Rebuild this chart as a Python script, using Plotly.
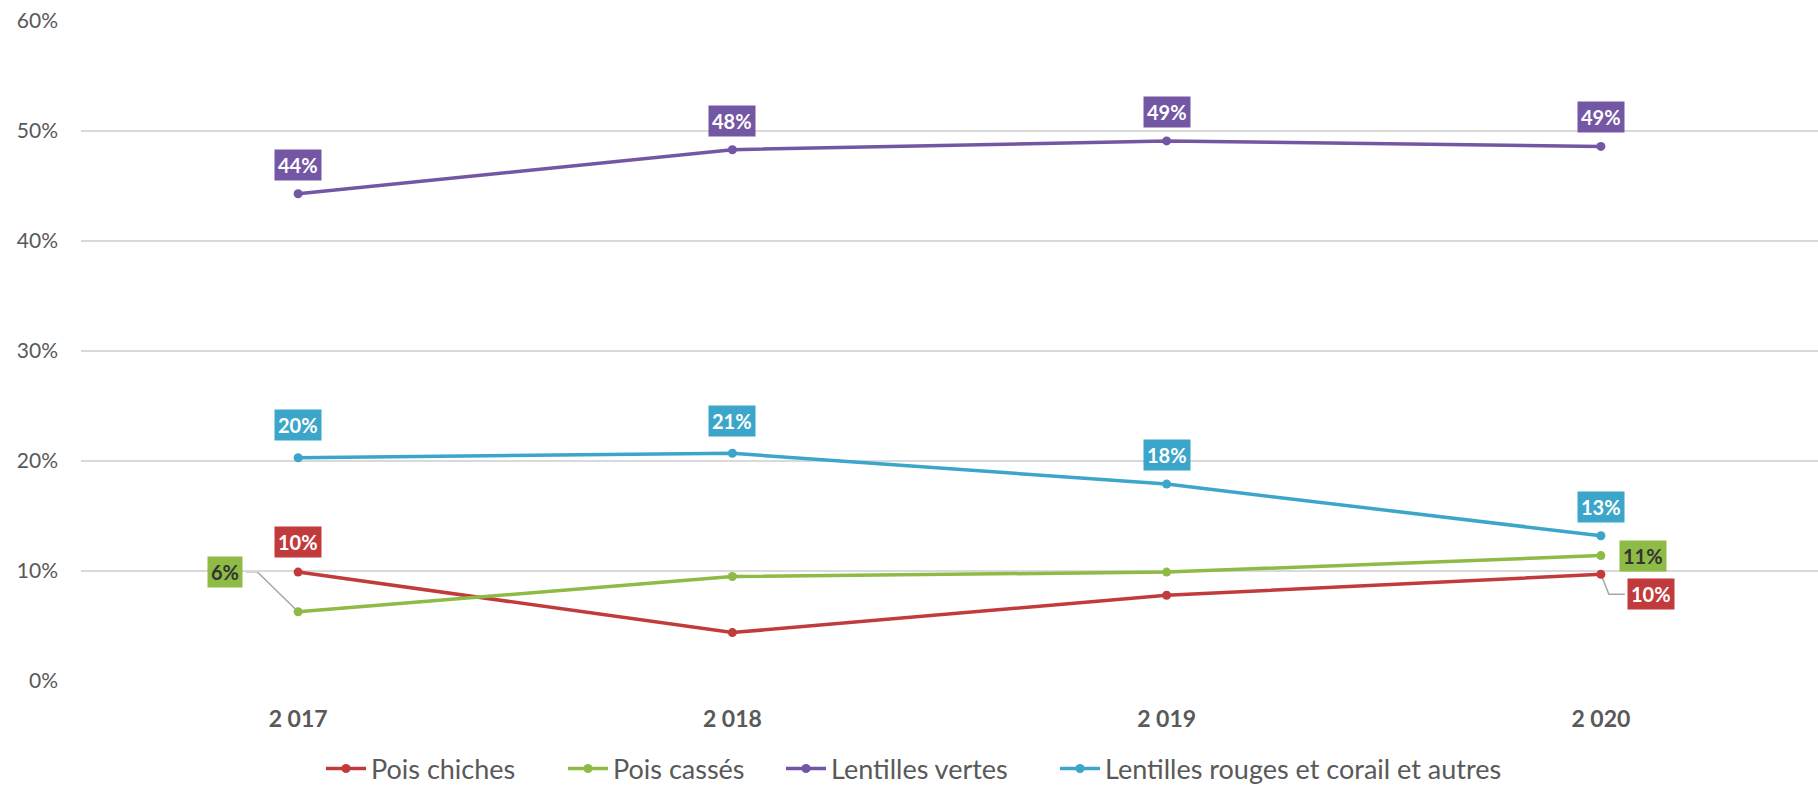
import plotly.graph_objects as go

years = ["2 017", "2 018", "2 019", "2 020"]
series_names = ["Pois chiches", "Pois cassés", "Lentilles vertes", "Lentilles rouges et corail et autres"]
pois_chiches = [0.099, 0.044, 0.078, 0.097]
pois_casses = [0.063, 0.095, 0.099, 0.114]
lentilles_vertes = [0.443, 0.483, 0.491, 0.486]
lentilles_rouges = [0.203, 0.207, 0.179, 0.132]

values = [pois_chiches, pois_casses, lentilles_vertes, lentilles_rouges]
colors = ["#C23B3C", "#8DBB45", "#7356A4", "#3BA6C9"]
label_font_colors = ["white", "#333333", "white", "white"]

# label offsets (pixels) per series per point: (xshift, yshift)
label_offsets = [
    [(0, 30), (None, None), (None, None), (50, -20)],
    [(-73, 40), (None, None), (None, None), (42, 0)],
    [(0, 29), (0, 29), (0, 29), (0, 29)],
    [(0, 33), (0, 32), (0, 29), (0, 29)],
]

FONT = "Lato, Open Sans, sans-serif"
legend_ids = ["legend", "legend2", "legend3", "legend4"]
legend_left_px = [326, 568, 786, 1060]   # left of legend symbols (pixels)
PLOT_L, PLOT_W = 81, 1737

fig = go.Figure()
for name, vals, col, lid in zip(series_names, values, colors, legend_ids):
    fig.add_trace(go.Scatter(
        x=years, y=vals, name=name, mode="lines+markers",
        line=dict(color=col, width=3.5),
        marker=dict(color=col, size=9),
        legend=lid, showlegend=True,
    ))

annotations = []
for vals, col, fcol, offs in zip(values, colors, label_font_colors, label_offsets):
    for xv, yv, (dx, dy) in zip(years, vals, offs):
        if dx is None:
            continue
        annotations.append(dict(
            x=xv, y=yv, xref="x", yref="y", text=f"{round(yv*100)}%",
            showarrow=False, xshift=dx, yshift=dy,
            bgcolor=col, borderpad=3,
            font=dict(family=FONT, size=20, color=fcol, weight="bold"),
        ))

shapes = [
    dict(type="path", xref="x", yref="y", xsizemode="pixel", ysizemode="pixel",
         xanchor=years[0], yanchor=pois_casses[0],
         path="M 0 0 L -41 40 L -52 40", line=dict(color="#A6A6A6", width=1.5), layer="below"),
    dict(type="path", xref="x", yref="y", xsizemode="pixel", ysizemode="pixel",
         xanchor=years[3], yanchor=pois_chiches[3],
         path="M 0 0 L 8 -20 L 24 -20", line=dict(color="#A6A6A6", width=1.5), layer="below"),
]

legends = {}
for lid, px in zip(legend_ids, legend_left_px):
    legends[lid] = dict(
        orientation="h", x=(px - 5 - PLOT_L) / PLOT_W, xanchor="left",
        yref="container", y=(787 - 769) / 787, yanchor="middle",
        font=dict(family=FONT, size=27, color="#595959"), itemwidth=40,
        bgcolor="rgba(0,0,0,0)",
    )

fig.update_layout(
    width=1818, height=787,
    margin=dict(l=PLOT_L, r=0, t=21, b=106),
    plot_bgcolor="white", paper_bgcolor="white",
    font=dict(family=FONT, color="#595959"),
    annotations=annotations, shapes=shapes,
    showlegend=True,
    **legends,
)
fig.update_xaxes(type="category", range=[-0.5, 3.5], showgrid=False, showline=False,
                 zeroline=False, ticks="", ticklabelstandoff=22,
                 tickfont=dict(family=FONT, size=23, color="#595959", weight="bold"))
fig.update_yaxes(range=[0, 0.6], dtick=0.1, tickformat=".0%", showgrid=True,
                 gridcolor="#D9D9D9", gridwidth=1.5, zeroline=False, showline=False,
                 ticks="", ticklabelstandoff=22,
                 tickfont=dict(family=FONT, size=21, color="#595959"))

fig.write_html("out.html")
